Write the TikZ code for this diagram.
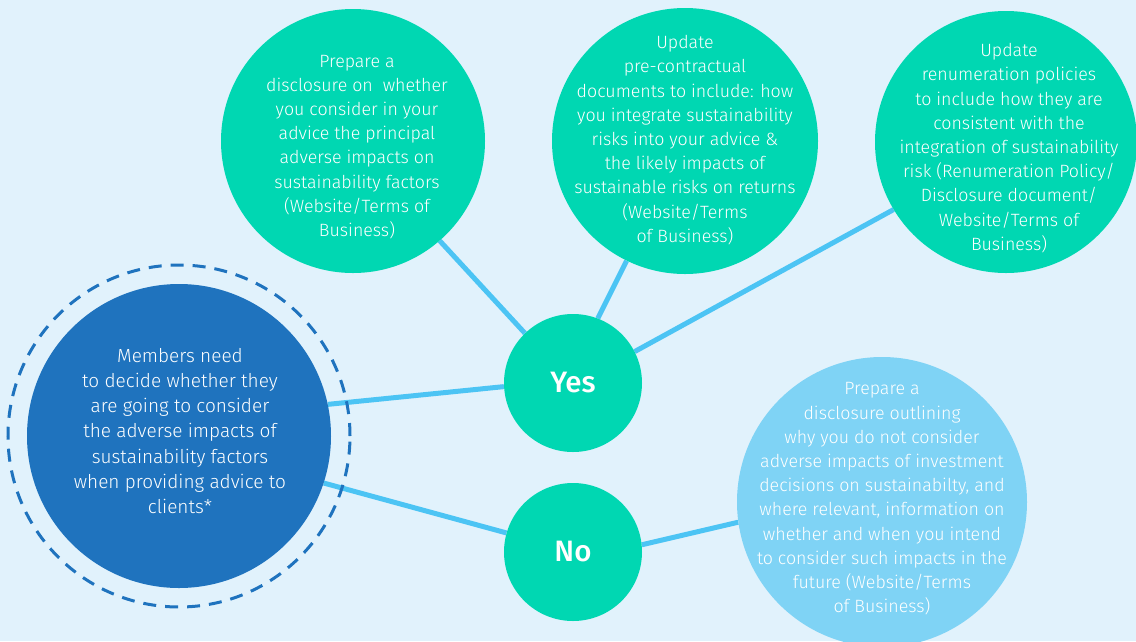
\documentclass[tikz,border=0pt]{standalone}
\usepackage{fontspec}
\setmainfont{Fira Sans}[UprightFont=* Light, BoldFont=* Medium]
\usetikzlibrary{backgrounds}

\definecolor{bgblue}{HTML}{E1F2FC}
\definecolor{mint}{HTML}{00D7B2}
\definecolor{deepblue}{HTML}{1F73BE}
\definecolor{skyblue}{HTML}{7FD3F5}
\definecolor{linkblue}{HTML}{4CC4F4}

\tikzset{
  bubble/.style={circle, fill=#1, draw=none, inner sep=0pt},
  bubbletext/.style={align=center, text=white, inner sep=0pt,
    font=\fontsize{17.8}{24.2}\selectfont},
  answer/.style={text=white, font=\fontsize{29.5}{30}\selectfont\bfseries},
  link/.style={draw=linkblue, line width=5pt},
  ring/.style={circle, draw=deepblue, line width=3pt, dash pattern=on 13pt off 9pt, inner sep=0pt}
}

\begin{document}
\begin{tikzpicture}[x=1pt,y=-1pt]
\begin{pgfonlayer}{background}
  \fill[bgblue] (0,0) rectangle (1136,641);
\end{pgfonlayer}
\useasboundingbox (0,0) rectangle (1136,641);

% decision circle and its dashed ring
\node[bubble=deepblue, minimum size=304pt] (main) at (179,436) {};
\node[ring, minimum size=342pt] (ring) at (179,436) {};

% answers
\node[bubble=mint, minimum size=138pt] (yes) at (573,383) {};
\node[bubble=mint, minimum size=138pt] (no) at (573,552) {};

% actions
\node[bubble=mint, minimum size=264pt] (c1) at (353,141) {};
\node[bubble=mint, minimum size=266pt] (c2) at (685,141) {};
\node[bubble=mint, minimum size=262pt] (c3) at (1006,142) {};
\node[bubble=skyblue, minimum size=290pt] (c4) at (882,502) {};

% texts
\node[answer] (yestxt) at (yes) {Yes};
\node[answer] (notxt) at (no) {No};

\node[bubbletext, font=\fontsize{19}{25.2}\selectfont] (maintxt) at (180,431) {Members need\\
to decide whether they\\
are going to consider\\
the adverse impacts of\\
sustainability factors\\
when providing advice to\\
clients*};

\node[bubbletext] (c1txt) at (357,147) {Prepare a\\
disclosure on\ \ whether\\
you consider in your\\
advice the principal\\
adverse impacts on\\
sustainability factors\\
(Website/Terms of\\
Business)};

\node[bubbletext] (c2txt) at (685,140) {Update\\
pre-contractual\\
documents to include: how\\
you integrate sustainability\\
risks into your advice \&\\
the likely impacts of\\
sustainable risks on returns\\
(Website/Terms\\
of Business)};

\node[bubbletext] (c3txt) at (1009,148) {Update\\
renumeration policies\\
to include how they are\\
consistent with the\\
integration of sustainability\\
risk (Renumeration Policy/\\
Disclosure document/\\
Website/Terms of\\
Business)};

\node[bubbletext] (c4txt) at (882,499) {Prepare a\\
disclosure outlining\\
why you do not consider\\
adverse impacts of investment\\
decisions on sustainabilty, and\\
where relevant, information on\\
whether and when you intend\\
to consider such impacts in the\\
future (Website/Terms\\
of Business)};

% connectors, kept behind the circles
\begin{pgfonlayer}{background}
  \draw[link] (main.12) -- (yes.183);
  \draw[link] (main.-18) -- (no.164);
  \draw[link] (yes.134) -- (c1.-49);
  \draw[link] (yes.69) -- (c2.244);
  \draw[link] (yes.27) -- (c3.211);
  \draw[link] (no.6) -- (c4.188);
\end{pgfonlayer}
\end{tikzpicture}
\end{document}
